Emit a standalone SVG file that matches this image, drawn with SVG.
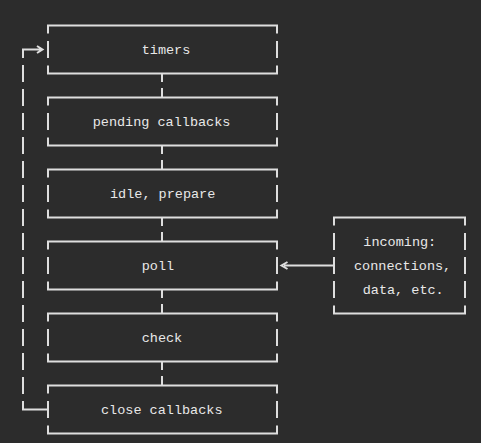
<svg xmlns="http://www.w3.org/2000/svg" width="481" height="443" viewBox="0 0 481 443">
<style>
.ln{fill:none;stroke:#dedede;stroke-width:2;stroke-linecap:butt;stroke-linejoin:miter}
.t{font-family:"Liberation Mono","DejaVu Sans Mono",monospace;font-size:13.5px;fill:#e8e8e8}
</style>
<rect width="481" height="443" fill="#2c2c2c"/>
<g id="timers">
<path class="ln" d="M48,33.5V25.5H277V33.5M48,41V58M277,41V58M48,65.5V73.5H277V65.5"/>
<text class="t" x="141.7" y="54">timers</text>
</g>
<g id="pending">
<path class="ln" d="M48,105.5V97.5H277V105.5M48,113V130M277,113V130M48,137.5V145.5H277V137.5"/>
<text class="t" x="92.7" y="126">pending callbacks</text>
</g>
<g id="idle">
<path class="ln" d="M48,177.5V169.5H277V177.5M48,185V202M277,185V202M48,209.5V217.5H277V209.5"/>
<text class="t" x="110" y="198">idle, prepare</text>
</g>
<g id="poll">
<path class="ln" d="M48,249.5V241.5H277V249.5M48,257V274M277,257V274M48,281.5V289.5H277V281.5"/>
<text class="t" x="141.7" y="270">poll</text>
</g>
<g id="check">
<path class="ln" d="M48,321.5V313.5H277V321.5M48,329V346M277,329V346M48,353.5V361.5H277V353.5"/>
<text class="t" x="141.7" y="342">check</text>
</g>
<g id="close">
<path class="ln" d="M48,393.5V385.5H277V393.5M48,401V418M277,401V418M48,425.5V433.5H277V425.5"/>
<text class="t" x="101" y="414">close callbacks</text>
</g>
<g id="incoming">
<path class="ln" d="M334,225.5V217.5H465V225.5M334,233V250M465,233V250M334,257V274M465,257V274M334,281V298M465,281V298M334,305.5V313.5H465V305.5"/>
<text class="t" x="363.3" y="246">incoming:</text>
<text class="t" x="354" y="270">connections,</text>
<text class="t" x="362.7" y="294">data, etc.</text>
</g>
<g id="connectors">
<path class="ln" d="M162,73.5V82M162,88V97.5M162,145.5V154M162,160V169.5M162,217.5V226M162,232V241.5M162,289.5V298M162,304V313.5M162,361.5V370M162,376V385.5"/>
<path class="ln" d="M334,265.5H284M287.5,262L281.5,265.5L287.5,269"/>
<path class="ln" d="M23,58V49.5H41M37,46L42.5,49.5L37,53"/>
<path class="ln" d="M23,65V82M23,89V106M23,113V130M23,137V154M23,161V178M23,185V202M23,209V226M23,233V250M23,257V274M23,281V298M23,305V322M23,329V346M23,353V370M23,377V394M23,401V409.5H48"/>
</g>
</svg>
